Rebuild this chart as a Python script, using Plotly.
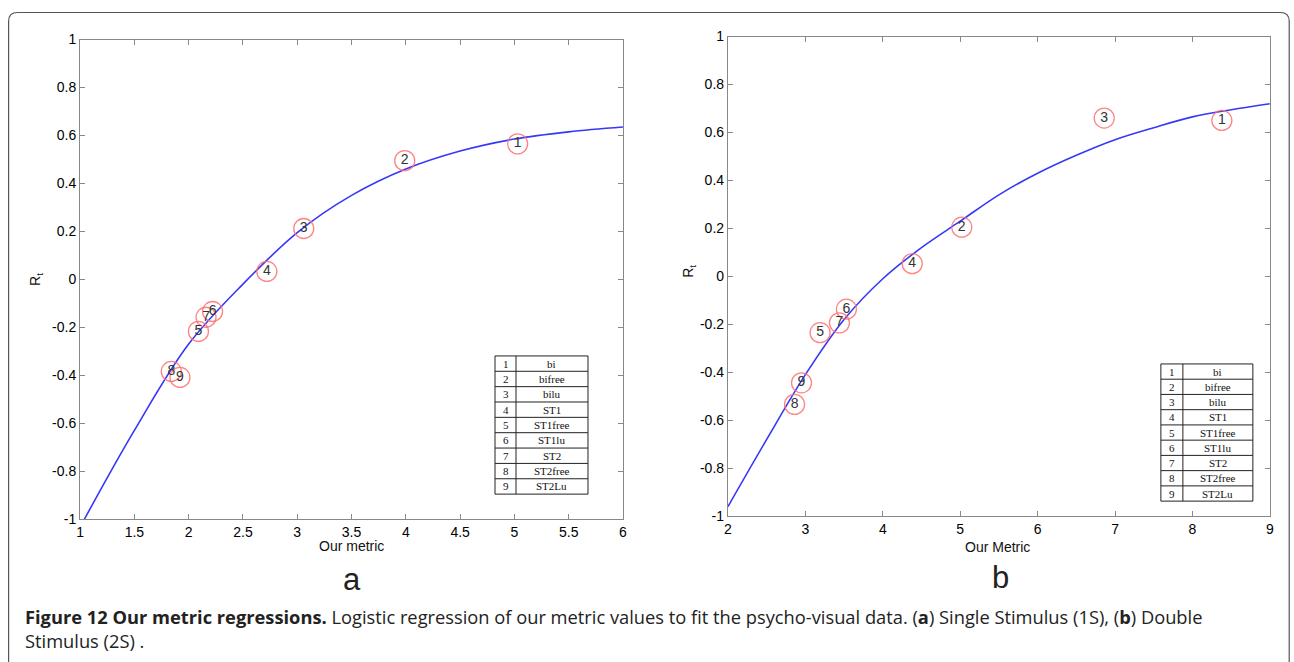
import plotly.graph_objects as go

W, H = 1294, 662

# ---------------- data ----------------
ids = ["1", "2", "3", "4", "5", "6", "7", "8", "9"]
names = ["bi", "bifree", "bilu", "ST1", "ST1free", "ST1lu", "ST2", "ST2free", "ST2Lu"]

a_x = [5.03, 3.99, 3.06, 2.72, 2.09, 2.22, 2.16, 1.84, 1.92]
a_y = [0.565, 0.495, 0.212, 0.033, -0.217, -0.134, -0.158, -0.384, -0.409]
a_curve_x = [1.04, 1.5, 2.0, 2.5, 3.0, 3.5, 4.0, 4.5, 5.0, 5.5, 6.0]
a_curve_y = [-1.0, -0.63, -0.27, -0.02, 0.195, 0.35, 0.46, 0.535, 0.585, 0.615, 0.635]

b_x = [8.38, 5.02, 6.86, 4.38, 3.19, 3.53, 3.44, 2.86, 2.95]
b_y = [0.65, 0.205, 0.66, 0.053, -0.235, -0.137, -0.194, -0.534, -0.444]
b_curve_x = [2.0, 2.5, 3.0, 3.5, 4.0, 4.5, 5.0, 5.5, 6.0, 6.5, 7.0, 7.5, 8.0, 8.5, 9.0]
b_curve_y = [-0.96, -0.68, -0.41, -0.18, -0.01, 0.12, 0.23, 0.34, 0.43, 0.505, 0.57, 0.62, 0.665, 0.695, 0.72]

a_xticks = [1, 1.5, 2, 2.5, 3, 3.5, 4, 4.5, 5, 5.5, 6]
b_xticks = [2, 3, 4, 5, 6, 7, 8, 9]
yticks = [-1, -0.8, -0.6, -0.4, -0.2, 0, 0.2, 0.4, 0.6, 0.8, 1]
ytick_text = ["-1", "-0.8", "-0.6", "-0.4", "-0.2", "0", "0.2", "0.4", "0.6", "0.8", "1"]

# ---------------- layout geometry (target pixels -> paper fractions) ----------------
AX, BX = 0.994, 2.9     # measured page-to-picture correction
AY, BY = 0.9746, 7.5

def fx(t):
    return ((t - BX) / AX) / W

def fy(t):
    return 1 - ((t - BY) / AY) / H

A_DOM = dict(x=[fx(79), fx(622)], y=[fy(518), fy(39)])
B_DOM = dict(x=[fx(727), fx(1269)], y=[fy(515), fy(36)])

CURVE_COLOR = "rgb(55,55,250)"
CIRCLE_COLOR = "rgba(255,110,110,0.85)"

fig = go.Figure()

def add_panel(cx, cy, px, py, xa, ya):
    fig.add_trace(go.Scatter(x=cx, y=cy, mode="lines", line=dict(color=CURVE_COLOR, width=1.6, shape="spline", smoothing=1.0),
                             xaxis=xa, yaxis=ya, hoverinfo="skip", showlegend=False))
    fig.add_trace(go.Scatter(x=px, y=py, mode="markers+text", text=ids, textposition="middle center",
                             textfont=dict(family="Liberation Sans, Arial", size=14, color="#333"),
                             marker=dict(symbol="circle-open", size=20, color=CIRCLE_COLOR, line=dict(width=1.3, color=CIRCLE_COLOR)),
                             xaxis=xa, yaxis=ya, showlegend=False))

add_panel(a_curve_x, a_curve_y, a_x, a_y, "x", "y")
add_panel(b_curve_x, b_curve_y, b_x, b_y, "x2", "y2")

shapes = []
annotations = []

def ann(text, xp, yp, font, **kw):
    d = dict(text=text, x=fx(xp), y=fy(yp), xref="paper", yref="paper", showarrow=False,
             xanchor="center", yanchor="middle", font=font)
    d.update(kw)
    annotations.append(d)

# legend tables drawn as ruled boxes
def add_table(x0, xm, x1, y0, y1):
    n = len(ids)
    rh = (y1 - y0) / n
    line = dict(color="#222", width=1)
    for i in range(n + 1):
        yy = y0 + i * rh
        shapes.append(dict(type="line", xref="paper", yref="paper", x0=fx(x0), x1=fx(x1), y0=fy(yy), y1=fy(yy), line=line))
    for xx in (x0, xm, x1):
        shapes.append(dict(type="line", xref="paper", yref="paper", x0=fx(xx), x1=fx(xx), y0=fy(y0), y1=fy(y1), line=line))
    tf = dict(family="Liberation Serif, Times New Roman", size=11, color="#111")
    for i in range(n):
        yc = y0 + (i + 0.5) * rh
        ann(ids[i], (x0 + xm) / 2, yc, tf)
        ann(names[i], (xm + x1) / 2, yc, tf)

add_table(494, 515, 587, 355, 493)
add_table(1160, 1182, 1252, 363, 500)

axis_common = dict(showline=True, linecolor="#888", linewidth=1.2, mirror="ticks", ticks="inside", ticklen=5,
                   tickcolor="#888", showgrid=False, zeroline=False,
                   tickfont=dict(family="Liberation Sans, Arial", size=14, color="#000"))

fig.update_layout(
    width=W, height=H, margin=dict(l=0, r=0, t=0, b=0),
    paper_bgcolor="white", plot_bgcolor="white", showlegend=False,
    xaxis=dict(domain=A_DOM["x"], anchor="y", range=[1, 6], tickvals=a_xticks, ticktext=[str(v) for v in a_xticks], **axis_common),
    yaxis=dict(domain=A_DOM["y"], anchor="x", range=[-1, 1], tickvals=yticks, ticktext=ytick_text, **axis_common),
    xaxis2=dict(domain=B_DOM["x"], anchor="y2", range=[2, 9], tickvals=b_xticks, ticktext=[str(v) for v in b_xticks], **axis_common),
    yaxis2=dict(domain=B_DOM["y"], anchor="x2", range=[-1, 1], tickvals=yticks, ticktext=ytick_text, **axis_common),
)

ann_font = dict(family="Liberation Sans, Arial", size=14, color="#111")
ann("Our metric", 350, 545, ann_font)
ann("Our Metric", 997, 546, ann_font)
ann("R<sub>t</sub>", 35, 279, ann_font, textangle=-90)
ann("R<sub>t</sub>", 688, 270, ann_font, textangle=-90)
ann("a", 351, 578, dict(family="Liberation Sans, Arial", size=31, color="#222"))
ann("b", 1000, 576, dict(family="Liberation Sans, Arial", size=31, color="#222"))
ann("<b>Figure 12 Our metric regressions.</b> Logistic regression of our metric values to fit the psycho-visual data. "
    "(<b>a</b>) Single Stimulus (1S), (<b>b</b>) Double<br>Stimulus (2S) .",
    22, 601, dict(family="Open Sans", size=18.3, color="#222"), xanchor="left", yanchor="top", align="left")

# rounded outer frame
px0 = fx(7.5)
px1 = min(fx(1291.5), (W - 0.8) / W)
pyt = fy(12)
pyb = fy(720)
rx, ry = 9 / W, 9 / H
path = (f"M {px0},{pyb} L {px0},{pyt - ry} Q {px0},{pyt} {px0 + rx},{pyt} "
        f"L {px1 - rx},{pyt} Q {px1},{pyt} {px1},{pyt - ry} L {px1},{pyb}")
shapes.append(dict(type="path", path=path, xref="paper", yref="paper", line=dict(color="#555", width=1.2)))

fig.update_layout(annotations=annotations, shapes=shapes)

fig.write_html("out.html", config={"displayModeBar": False},
               post_script="document.body.style.margin='0';document.body.style.overflow='hidden';")
